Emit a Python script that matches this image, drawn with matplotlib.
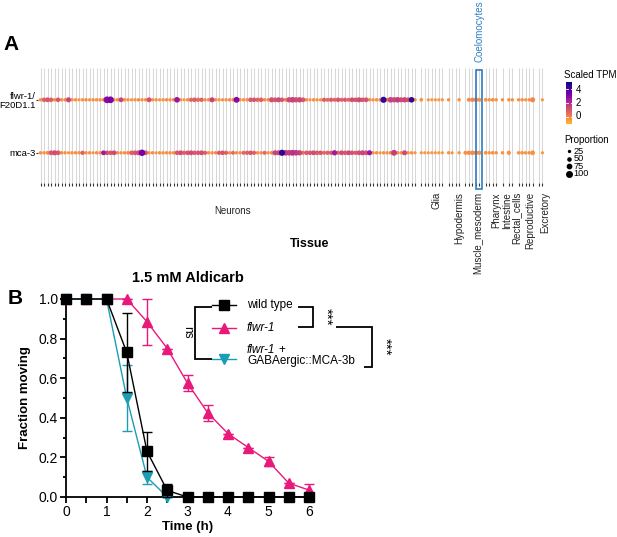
import numpy as np
import matplotlib
matplotlib.use('Agg')
import matplotlib.pyplot as plt
from matplotlib.colors import LinearSegmentedColormap, Normalize
from matplotlib.patches import Rectangle

plt.rcParams['font.family'] = ['Liberation Sans', 'DejaVu Sans']

# ---------------- panel A data (dot plot) ----------------
tissues = ['Neurons', 'Glia', 'Hypodermis', 'Muscle_mesoderm', 'Pharynx',
           'Intestine', 'Rectal_cells', 'Reproductive', 'Excretory']
n_types = [108, 7, 4, 5, 4, 1, 2, 5, 2]
genes = ['mca-3', 'flwr-1/\nF20D1.1']

flwr1_tpm = [
    -0.4, 0.8, 1.0, 0.8, -0.3, 1.0, -0.3, -0.2, 1.5, -0.4, -0.3, -0.4,
    -0.4, -0.2, -0.4, -0.3, -0.4, -0.4, -0.3, 3.0, 3.2, -0.3, -0.3, 1.5,
    -0.4, -0.3, -0.4, -0.4, -0.2, -0.4, -0.4, 1.2, -0.4, -0.3, -0.4, -0.4,
    -0.3, -0.4, -0.2, 2.6, -0.4, -0.4, -0.3, 0.6, 0.8, 0.5, 0.7, -0.3,
    -0.3, 1.5, -0.3, -0.4, -0.3, -0.4, -0.3, -0.2, 3.0, -0.3, -0.4, -0.3,
    0.9, 1.0, 0.6, 0.8, -0.2, -0.2, 1.2, 1.0, 1.3, 0.9, -0.1, 1.3,
    1.5, 1.2, 1.4, 1.0, -0.3, -0.4, -0.3, -0.4, -0.3, 0.8, 0.5, 0.9,
    0.6, 1.0, 0.7, 0.9, 0.6, 1.2, 1.0, 1.3, 0.9, 1.1, -0.3, -0.4,
    -0.3, -0.3, 4.5, -0.2, 1.5, 1.3, 1.6, 1.2, 1.4, 1.1, 4.6, -0.3,
    # glia, hypodermis, muscle, pharynx, intestine, rectal, reproductive, excretory
    -0.4, -0.5, -0.5, -0.5, -0.5, -0.5, -0.5,
    -0.4, -0.5, -0.5, -0.4,
    -0.3, -0.2, -0.1, -0.2, -0.3,
    -0.4, -0.4, -0.3, -0.4,
    -0.4,
    -0.4, -0.4,
    -0.4, -0.3, -0.4, -0.4, -0.1,
    -0.5, -0.5]
flwr1_prop = [
    20, 40, 45, 40, 20, 40, 20, 20, 50, 20, 20, 15,
    20, 20, 15, 20, 20, 20, 25, 80, 80, 20, 20, 45,
    20, 20, 15, 20, 20, 20, 20, 45, 20, 20, 15, 20,
    20, 20, 20, 60, 20, 15, 20, 35, 40, 35, 35, 20,
    20, 50, 20, 20, 15, 20, 20, 20, 65, 20, 20, 20,
    40, 40, 35, 40, 20, 20, 50, 45, 50, 40, 25, 55,
    60, 55, 55, 45, 20, 15, 20, 20, 15, 35, 30, 35,
    30, 40, 30, 35, 30, 45, 40, 50, 40, 45, 20, 20,
    20, 20, 70, 25, 60, 55, 60, 50, 55, 45, 60, 20,
    25, 0, 15, 15, 15, 15, 15,
    20, 0, 0, 20,
    0, 30, 35, 40, 30,
    25, 20, 25, 20,
    20,
    20, 20,
    20, 20, 15, 20, 50,
    0, 15]
mca3_tpm = [
    -0.3, -0.3, -0.2, 1.0, 1.2, 0.9, -0.3, -0.3, -0.4, -0.3, -0.3, -0.3,
    0.8, -0.3, -0.3, -0.4, -0.3, -0.3, 2.5, 1.2, 1.0, 1.3, -0.3, -0.3,
    -0.3, -0.2, 0.8, 1.0, 1.2, 3.3, 1.0, -0.3, -0.3, -0.4, -0.3, -0.3,
    -0.3, -0.2, -0.3, 1.0, 1.2, 0.8, 1.1, 1.3, 0.9, 1.0, 1.2, 0.8,
    -0.3, -0.3, -0.2, 0.9, 1.1, 0.8, -0.3, 0.5, -0.2, -0.3, 0.6, 0.8,
    1.0, 0.8, -0.3, -0.2, 0.6, -0.3, -0.2, 1.5, 1.4, 4.6, 1.8, 1.6,
    1.9, 1.7, 1.5, 0.4, 0.9, 1.0, 1.2, 0.9, 1.0, 0.6, 0.8, 0.9,
    2.5, 0.7, 1.2, 1.0, 1.3, 1.1, 0.9, 1.2, 1.4, 1.1, 2.6, -0.2,
    -0.3, -0.4, -0.3, -0.3, -0.2, 1.6, -0.2, -0.3, 1.3, -0.3, -0.3, -0.4,
    -0.5, -0.5, -0.5, -0.5, -0.5, -0.5, -0.5,
    -0.4, -0.4, -0.4, -0.5,
    -0.3, -0.2, -0.2, -0.2, -0.3,
    -0.4, -0.4, -0.4, -0.4,
    -0.4,
    -0.3, -0.4,
    -0.3, -0.4, -0.4, -0.3, -0.4,
    -0.5, -0.5]
mca3_prop = [
    20, 20, 25, 45, 50, 45, 20, 20, 15, 20, 20, 20,
    35, 20, 20, 15, 20, 20, 45, 40, 40, 45, 20, 20,
    20, 25, 40, 45, 50, 75, 45, 20, 20, 15, 20, 20,
    20, 20, 20, 40, 45, 35, 40, 45, 40, 40, 45, 35,
    20, 20, 20, 35, 40, 35, 20, 30, 20, 20, 30, 35,
    40, 35, 20, 20, 30, 20, 25, 50, 50, 70, 60, 60,
    65, 60, 55, 30, 40, 40, 45, 40, 40, 30, 35, 35,
    55, 30, 45, 40, 45, 40, 35, 45, 50, 45, 50, 20,
    20, 15, 20, 20, 25, 65, 20, 20, 50, 20, 20, 15,
    15, 15, 15, 15, 15, 15, 15,
    20, 15, 0, 20,
    30, 35, 40, 40, 35,
    25, 20, 25, 20,
    20,
    35, 0,
    20, 25, 20, 20, 45,
    0, 15]
highlight_tissue = 'Muscle_mesoderm'
highlight_index = 4
highlight_label = 'Coelomocytes'

# ---------------- panel B data (aldicarb) ----------------
time_h = [0, 0.5, 1, 1.5, 2, 2.5, 3, 3.5, 4, 4.5, 5, 5.5, 6]
wt_mean = [1, 1, 1, 0.73, 0.23, 0.033, 0, 0, 0, 0, 0, 0, 0]
wt_err = [0, 0, 0, 0.2, 0.1, 0.033, 0, 0, 0, 0, 0, 0, 0]
flwr1_mean = [1, 1, 1, 1, 0.885, 0.75, 0.575, 0.425, 0.32, 0.25, 0.18, 0.07, 0.035]
flwr1_err = [0, 0, 0, 0, 0.115, 0, 0.04, 0.04, 0, 0, 0.022, 0, 0.033]
rescue_time = [0, 0.5, 1, 1.5, 2, 2.5]
rescue_mean = [1, 1, 1, 0.5, 0.1, 0]
rescue_err = [0, 0, 0, 0.167, 0.033, 0]

W, H = 617, 537
fig = plt.figure(figsize=(W / 100, H / 100), dpi=100)

def fbox(x0, y0, x1, y1):
    # pixel box (top-left origin) -> figure fraction rect
    return [x0 / W, 1 - y1 / H, (x1 - x0) / W, (y1 - y0) / H]

# overlay for free text / brackets
ov = fig.add_axes([0, 0, 1, 1], zorder=5)
ov.set_xlim(0, W)
ov.set_ylim(H, 0)
ov.axis('off')

# ---- panel A ----
gap = 0.8
xpos, starts = [], []
cur = 0.0
for k, n in enumerate(n_types):
    starts.append(cur)
    xpos.extend(cur + np.arange(n))
    cur += n + gap
xpos = np.array(xpos)
unit = 3.5
x_first = 40.5
pad = 0.6
axA = fig.add_axes(fbox(x_first - pad * unit, 68,
                        x_first + (xpos[-1] + pad) * unit, 183))
axA.set_xlim(-pad, xpos[-1] + pad)
ylo, yhi = -0.57, 1.6
axA.set_ylim(ylo, yhi)
for s in axA.spines.values():
    s.set_visible(False)
axA.vlines(xpos, ylo, yhi, color='#d8d8d8', lw=0.75, zorder=0)

base = plt.get_cmap('plasma')
cmap = LinearSegmentedColormap.from_list('tpm', base(np.linspace(0.83, 0.0, 256)))
norm = Normalize(-1, 5)

def dot_size(p):
    d = 2.4 + np.asarray(p, float) / 100 * 5.4
    return (d * 0.72) ** 2

for yrow, tpm, prop in [(1, flwr1_tpm, flwr1_prop), (0, mca3_tpm, mca3_prop)]:
    tpm = np.array(tpm)
    prop = np.array(prop)
    m = prop > 0
    order = np.argsort(tpm[m])
    axA.scatter(xpos[m][order], np.full(m.sum(), yrow)[order], s=dot_size(prop[m][order]),
                c=tpm[m][order], cmap=cmap, norm=norm, linewidths=0, zorder=3)

axA.set_yticks([0, 1])
axA.set_yticklabels(genes, fontsize=6.8, linespacing=1.05)
axA.set_xticks(xpos)
axA.set_xticklabels([])
axA.tick_params(axis='x', length=2, width=0.8, color='#333333', pad=0)
axA.tick_params(axis='y', length=1.5, width=0.8, color='#333333', pad=0.3)

# facet labels
for k, (name, n) in enumerate(zip(tissues, n_types)):
    xc = starts[k] + (n - 1) / 2
    if name == 'Neurons':
        axA.text(xc + 1.5, -1.1, name, fontsize=7, ha='center', va='center',
                 color='#222222', clip_on=False)
    else:
        shift = 1.4 + (0.4 if name == 'Rectal_cells' else 0)
        axA.text(xc + shift, -0.74, name, fontsize=7, rotation=90, ha='center',
                 va='top', color='#222222', clip_on=False)

# highlighted column
hx = starts[tissues.index(highlight_tissue)] + highlight_index
axA.add_patch(Rectangle((hx - 0.85, -0.68), 1.7, 1.6 - 0.04 + 0.68, fill=False,
                        ec='#2f7dc4', lw=1.2, clip_on=False, zorder=4))
axA.text(hx, yhi + 0.11, highlight_label, rotation=90, ha='center', va='bottom',
         fontsize=7, color='#2f7dc4', clip_on=False)

ov.text(310, 244, 'Tissue', fontsize=9, fontweight='bold', ha='center', va='center')
ov.text(3, 45, 'A', fontsize=15, fontweight='bold', ha='left', va='center')

# colour legend
ov.text(564, 75, 'Scaled TPM', fontsize=7, ha='left', va='center')
cax = fig.add_axes(fbox(566, 82, 572, 124))
grad = np.linspace(5.1, -1.1, 200).reshape(-1, 1)
cax.imshow(grad, aspect='auto', cmap=cmap, norm=norm, extent=[0, 1, -1.1, 5.1])
cax.set_ylim(-1.1, 5.1)
cax.set_xlim(0, 1)
cax.axis('off')
for v in [0, 2, 4]:
    cax.plot([0, 0.25], [v, v], color='white', lw=0.6)
    cax.plot([0.75, 1], [v, v], color='white', lw=0.6)
    ytxt = 116 - v * 6.6
    ov.text(576, ytxt, str(v), fontsize=7, ha='left', va='center')

# size legend
ov.text(564, 140, 'Proportion', fontsize=7, ha='left', va='center')
for i, p in enumerate([25, 50, 75, 100]):
    yy = 151 + i * 7.6
    ov.scatter([569], [yy], s=dot_size(p) * 0.8, color='black', linewidths=0)
    ov.text(573.5, yy, str(p), fontsize=6.6, ha='left', va='center')

# ---- panel B ----
axB = fig.add_axes(fbox(66, 299, 309, 497))
pink = '#e8197b'
teal = '#1a9db5'
axB.errorbar(time_h, flwr1_mean, yerr=flwr1_err, color=pink, marker='^', ms=7.5,
             lw=1, capsize=3.5, elinewidth=1, capthick=1, clip_on=False, zorder=3)
axB.errorbar(rescue_time, rescue_mean, yerr=rescue_err, color=teal, marker='v', ms=7.5,
             lw=1, capsize=3.5, elinewidth=1, capthick=1, clip_on=False, zorder=4)
axB.errorbar(time_h, wt_mean, yerr=wt_err, color='black', marker='s', ms=7,
             lw=1, capsize=3.5, elinewidth=1, capthick=1, clip_on=False, zorder=5)
axB.set_xlim(0, 6)
axB.set_ylim(0, 1)
axB.set_xticks(range(7))
axB.set_xticks(np.arange(0.5, 6, 1), minor=True)
axB.set_yticks(np.round(np.arange(0, 1.01, 0.2), 1))
axB.set_yticklabels(['0.0', '0.2', '0.4', '0.6', '0.8', '1.0'])
axB.set_yticks(np.arange(0.1, 1, 0.2), minor=True)
for side in ['top', 'right']:
    axB.spines[side].set_visible(False)
for side in ['left', 'bottom']:
    axB.spines[side].set_linewidth(1.3)
axB.tick_params(which='major', length=4, width=1.3, labelsize=10, pad=2)
axB.tick_params(which='minor', length=4, width=1.3)
axB.tick_params(axis='y', which='minor', length=2.5)
axB.set_xlabel('Time (h)', fontsize=9.5, fontweight='bold', labelpad=1)
axB.set_ylabel('Fraction moving', fontsize=9.5, fontweight='bold', labelpad=5)
axB.set_title('1.5 mM Aldicarb', fontsize=10.5, fontweight='bold', pad=12)
ov.text(8, 298, 'B', fontsize=15, fontweight='bold', ha='left', va='center')

# legend with brackets
leg = [('black', 's', 305, 7), (pink, '^', 328, 7.5), (teal, 'v', 359, 7.5)]
for col, mk, yy, ms in leg:
    ov.plot([212, 236], [yy, yy], color=col, lw=1)
    ov.plot([224], [yy], marker=mk, color=col, ms=ms)
ov.text(247, 305, 'wild type', fontsize=8.5, ha='left', va='center')
ov.text(247, 328, 'flwr-1', fontsize=8.5, style='italic', ha='left', va='center')
ov.text(247, 350, 'flwr-1', fontsize=8.5, style='italic', ha='left', va='center')
ov.text(278, 350, '+', fontsize=8.5, ha='left', va='center')
ov.text(247, 361, 'GABAergic::MCA-3b', fontsize=8.5, ha='left', va='center')

lk = dict(color='black', lw=1.3, solid_capstyle='butt', solid_joinstyle='miter')
ov.plot([212, 195, 195, 212], [307, 307, 359, 359], **lk)
ov.text(187, 332, 'ns', fontsize=8.5, rotation=270, ha='center', va='center')
ov.plot([298, 313, 313, 298], [307, 307, 327, 327], **lk)
ov.text(326, 317, '***', fontsize=11, rotation=270, ha='center', va='center')
ov.plot([336, 372, 372, 364], [327, 327, 367, 367], **lk)
ov.text(385, 347, '***', fontsize=11, rotation=270, ha='center', va='center')

fig.savefig('out.png', dpi=100)
